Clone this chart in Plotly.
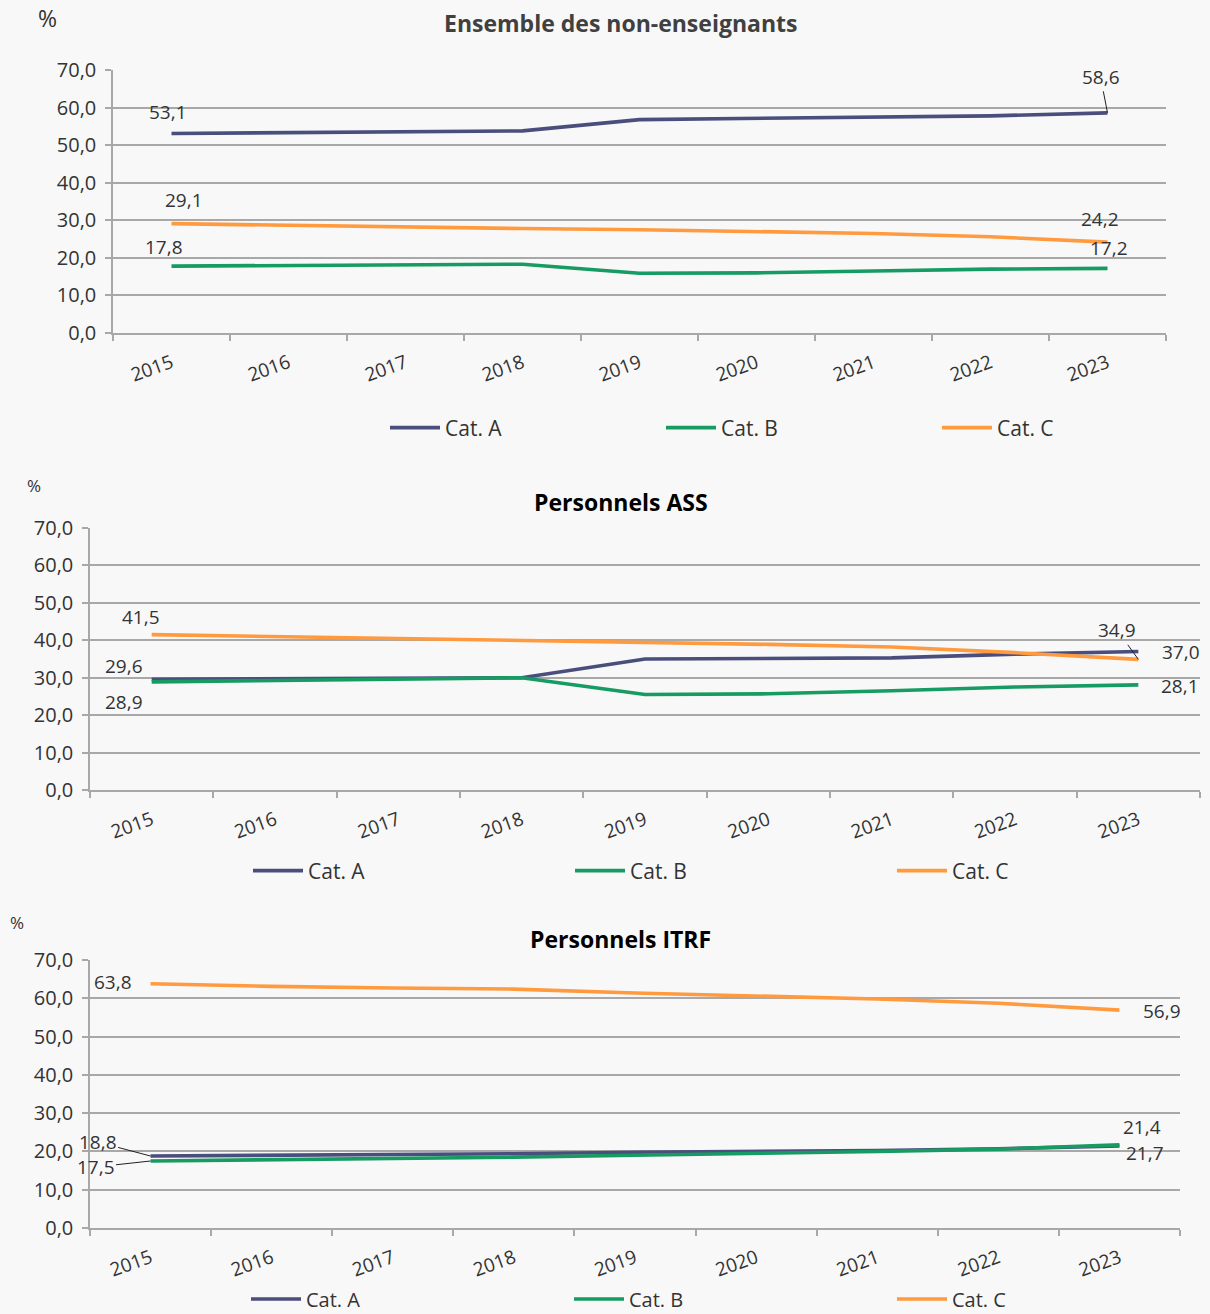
import plotly.graph_objects as go

# Figure size in pixels
W, H = 1210, 1314

years = ["2015", "2016", "2017", "2018", "2019", "2020", "2021", "2022", "2023"]

# Ensemble des non-enseignants (%)
ens_a = [53.1, 53.4, 53.6, 53.8, 56.8, 57.1, 57.3, 57.8, 58.6]
ens_b = [17.8, 18.0, 18.2, 18.3, 15.9, 16.0, 16.5, 17.0, 17.2]
ens_c = [29.1, 28.6, 28.2, 27.8, 27.5, 27.1, 26.5, 25.6, 24.2]

# Personnels ASS (%)
ass_a = [29.6, 29.7, 29.8, 30.0, 35.0, 35.1, 35.3, 36.3, 37.0]
ass_b = [28.9, 29.3, 29.7, 30.0, 25.5, 25.7, 26.5, 27.5, 28.1]
ass_c = [41.5, 41.0, 40.4, 39.8, 39.3, 38.9, 38.2, 36.7, 34.9]

# Personnels ITRF (%)
itrf_a = [18.8, 19.0, 19.1, 19.4, 19.8, 20.0, 20.2, 20.7, 21.4]
itrf_b = [17.5, 17.8, 18.1, 18.5, 19.0, 19.4, 20.0, 20.6, 21.7]
itrf_c = [63.8, 63.1, 62.7, 62.4, 61.4, 60.6, 59.8, 58.7, 56.9]

series_names = ["Cat. A", "Cat. B", "Cat. C"]
colors = ["#4a4e7c", "#169b62", "#ff9a3f"]

FONT = "Open Sans"
TEXT = "#333333"
GRID = "#a8a8a8"
BG = "#f8f8f8"


def fx(p):
    return p / W


def fy(p):
    return 1 - p / H


def fmt(v):
    return f"{v:.1f}".replace(".", ",")


panels = [
    dict(title="Ensemble des non-enseignants", title_color="#404040", title_y=23,
         data=[ens_a, ens_b, ens_c], box=(113, 70, 1166, 333),
         pct=(47, 18, 23), legend_x=385, legend_y=428, entry=211, legend_size=21),
    dict(title="Personnels ASS", title_color="#000000", title_y=502,
         data=[ass_a, ass_b, ass_c], box=(90, 528, 1200, 790),
         pct=(34, 485, 17), legend_x=248, legend_y=871, entry=257, legend_size=21),
    dict(title="Personnels ITRF", title_color="#000000", title_y=939,
         data=[itrf_a, itrf_b, itrf_c], box=(90, 960, 1180, 1228),
         pct=(17, 922, 17), legend_x=246, legend_y=1299, entry=258, legend_size=20),
]

fig = go.Figure()
annotations = []
layout_axes = {}

for i, p in enumerate(panels):
    n = "" if i == 0 else str(i + 1)
    leg = "legend" if i == 0 else f"legend{i + 1}"
    for name, vals, col in zip(series_names, p["data"], colors):
        fig.add_trace(go.Scatter(
            x=years, y=vals, name=name, mode="lines",
            line=dict(color=col, width=3.6),
            xaxis=f"x{n}", yaxis=f"y{n}", legend=leg,
            hoverinfo="skip",
        ))
    x0, y0, x1, y1 = p["box"]
    layout_axes[f"xaxis{n}"] = dict(
        type="category", domain=[fx(x0), fx(x1)], anchor=f"y{n}",
        range=[-0.5, 8.5], showgrid=False, zeroline=False,
        showline=True, linecolor=GRID, linewidth=1.5,
        ticks="outside", tickson="boundaries", ticklen=6, tickcolor=GRID, tickwidth=1.5,
        tickangle=-20, ticklabelstandoff=10,
        tickfont=dict(family=FONT, size=19, color=TEXT),
    )
    layout_axes[f"yaxis{n}"] = dict(
        domain=[fy(y1), fy(y0)], anchor=f"x{n}",
        range=[0, 70], dtick=10, tickformat=".1f",
        showgrid=True, gridcolor=GRID, gridwidth=1.5, zeroline=False,
        showline=True, linecolor=GRID, linewidth=1.5,
        ticks="outside", ticklen=6, tickcolor=GRID, tickwidth=1.5,
        ticklabelstandoff=5,
        tickfont=dict(family=FONT, size=20, color=TEXT),
    )
    layout_axes[leg] = dict(
        orientation="h", x=fx(p["legend_x"]), y=fy(p["legend_y"]),
        xanchor="left", yanchor="middle", xref="paper", yref="paper",
        entrywidth=p["entry"], entrywidthmode="pixels", itemwidth=50,
        bgcolor="rgba(0,0,0,0)",
        font=dict(family=FONT, size=p["legend_size"], color=TEXT),
    )
    # panel title
    annotations.append(dict(
        text=f"<b>{p['title']}</b>", xref="paper", yref="paper",
        x=0.513, y=fy(p["title_y"]), xanchor="center", yanchor="middle",
        showarrow=False, font=dict(family=FONT, size=23, color=p["title_color"]),
    ))
    # unit label
    px_, py_, ps = p["pct"]
    annotations.append(dict(
        text="%", xref="paper", yref="paper", x=fx(px_), y=fy(py_),
        xanchor="center", yanchor="middle", showarrow=False,
        font=dict(family=FONT, size=ps, color=TEXT),
    ))


def label(panel, series, idx, dx=0, dy=0, arrow=None):
    n = "" if panel == 0 else str(panel + 1)
    v = panels[panel]["data"][series][idx]
    a = dict(
        text=fmt(v), xref=f"x{n}", yref=f"y{n}", x=idx, y=v,
        font=dict(family=FONT, size=19, color=TEXT),
    )
    if arrow:
        a.update(showarrow=True, arrowhead=0, arrowwidth=1, arrowcolor="#222222",
                 ax=arrow[0], ay=arrow[1], standoff=0)
    else:
        a.update(showarrow=False, xshift=dx, yshift=dy)
    annotations.append(a)


# Ensemble des non-enseignants
label(0, 0, 0, -4, 21)
label(0, 2, 0, 12, 24)
label(0, 1, 0, -8, 19)
label(0, 0, 8, arrow=(-7, -36))
label(0, 2, 8, -8, 23)
label(0, 1, 8, 1, 20)

# Personnels ASS
label(1, 2, 0, -11, 18)
label(1, 0, 0, -28, 13)
label(1, 1, 0, -28, -20)
label(1, 2, 8, arrow=(-21, -29))
label(1, 0, 8, 43, 0)
label(1, 1, 8, 42, -1)

# Personnels ITRF
label(2, 2, 0, -38, 2)
label(2, 0, 0, arrow=(-53, -14))
label(2, 1, 0, arrow=(-55, 6))
label(2, 0, 8, 23, 19)
label(2, 1, 8, 26, -8)
label(2, 2, 8, 43, -1)

fig.update_layout(
    width=W, height=H, margin=dict(l=0, r=0, t=0, b=0, autoexpand=False),
    paper_bgcolor=BG, plot_bgcolor=BG,
    separators=", ",
    font=dict(family=FONT, color=TEXT),
    annotations=annotations,
    showlegend=True,
    **layout_axes,
)

fig.write_html("out.html")
